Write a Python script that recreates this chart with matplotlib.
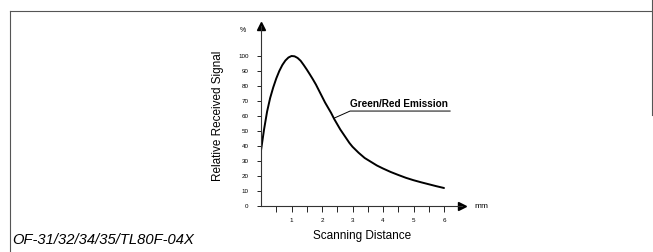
"""
Relative received signal vs scanning distance
"""
import matplotlib.pyplot as plt
from matplotlib.lines import Line2D

plt.rcParams['font.family'] = ['Liberation Sans', 'DejaVu Sans']

# curve
distance_mm = [0, 0.05, 0.1, 0.2, 0.3, 0.4, 0.5, 0.6, 0.7, 0.8, 0.9, 1.0, 1.1, 1.2,
               1.3, 1.4, 1.5, 1.6, 1.7, 1.8, 1.9, 2.0, 2.1, 2.2, 2.3, 2.4, 2.5, 2.6,
               2.7, 2.8, 2.9, 3.0, 3.2, 3.4, 3.6, 3.8, 4.0, 4.25, 4.5, 4.75, 5.0,
               5.25, 5.5, 5.75, 6.0]
signal_pct = [37, 44, 51, 63, 72, 79, 85, 90, 94, 97, 99, 100, 99.8, 98.7,
              96.8, 94, 91, 87.8, 84.5, 81, 77, 73, 69, 65.5, 62, 58, 54.5, 51,
              48, 45, 42, 39.5, 35.5, 32, 29.5, 27, 25, 22.7, 20.7, 18.8, 17.2,
              15.8, 14.5, 13.2, 12]

y_ticks = [0, 10, 20, 30, 40, 50, 60, 70, 80, 90, 100]
x_ticks = [0.5, 1, 1.5, 2, 2.5, 3, 3.5, 4, 4.5, 5, 5.5, 6]
x_labels = ['', '1', '', '2', '', '3', '', '4', '', '5', '', '6']

series_name = 'Green/Red Emission'
part_number = 'OF-31/32/34/35/TL80F-04X'

W, H = 653, 252
fig = plt.figure(figsize=(W / 100, H / 100), dpi=100)

# axes placed so that 0 is at pixel (261, 206)
x0, y0 = 261, 206
px_x, px_y = 30.5, 1.5
xmax, ymax = 6.6, 120
ax = fig.add_axes([x0 / W, (H - y0) / H, xmax * px_x / W, ymax * px_y / H])
ax.set_xlim(0, xmax)
ax.set_ylim(0, ymax)

ax.plot(distance_mm, signal_pct, color='black', lw=1.4, solid_capstyle='round')

for s in ['top', 'right']:
    ax.spines[s].set_visible(False)
for s in ['left', 'bottom']:
    ax.spines[s].set_linewidth(0.8)
    ax.spines[s].set_color('#333333')

# arrow heads on the axes
ax.plot(1, 0, '>', color='black', ms=6, transform=ax.transAxes, clip_on=False)
ax.plot(0, 1, '^', color='black', ms=6, transform=ax.transAxes, clip_on=False)

ax.set_yticks(y_ticks)
ax.set_yticklabels([str(v) for v in y_ticks])
ax.set_xticks(x_ticks)
ax.set_xticklabels(x_labels)
ax.tick_params(axis='y', length=3, width=0.6, labelsize=4.5, pad=6)
ax.tick_params(axis='x', length=4, width=0.6, labelsize=4.5, pad=5, direction='out')

ax.set_ylabel('Relative Received Signal', fontsize=8.5, labelpad=10)
ax.set_xlabel('Scanning Distance', fontsize=8.5, labelpad=5)

ax.text(-0.6, 117, '%', fontsize=5, ha='center', va='center')
ax.text(1.06, 0.0, 'mm', fontsize=6, ha='left', va='center', transform=ax.transAxes)

# series label with leader line
ax.plot([2.39, 2.92, 6.2], [58.5, 63.3, 63.3], color='black', lw=0.7, clip_on=False)
ax.text(2.93, 64.5, series_name, fontsize=7.2, fontweight='bold', ha='left', va='bottom')

fig.text(12 / W, (H - 240) / H, part_number, fontsize=10.6, style='italic',
         ha='left', va='center')

# frame lines of the scanned sheet
fig.add_artist(Line2D([10 / W, 1.0], [(H - 11) / H] * 2, color='#555555', lw=0.8,
                      transform=fig.transFigure))
fig.add_artist(Line2D([10 / W] * 2, [0, (H - 11) / H], color='#555555', lw=0.8,
                      transform=fig.transFigure))
fig.add_artist(Line2D([651.5 / W] * 2, [(H - 115) / H, 1.0], color='#555555', lw=0.8,
                      transform=fig.transFigure))

fig.savefig('out.png', dpi=100)
